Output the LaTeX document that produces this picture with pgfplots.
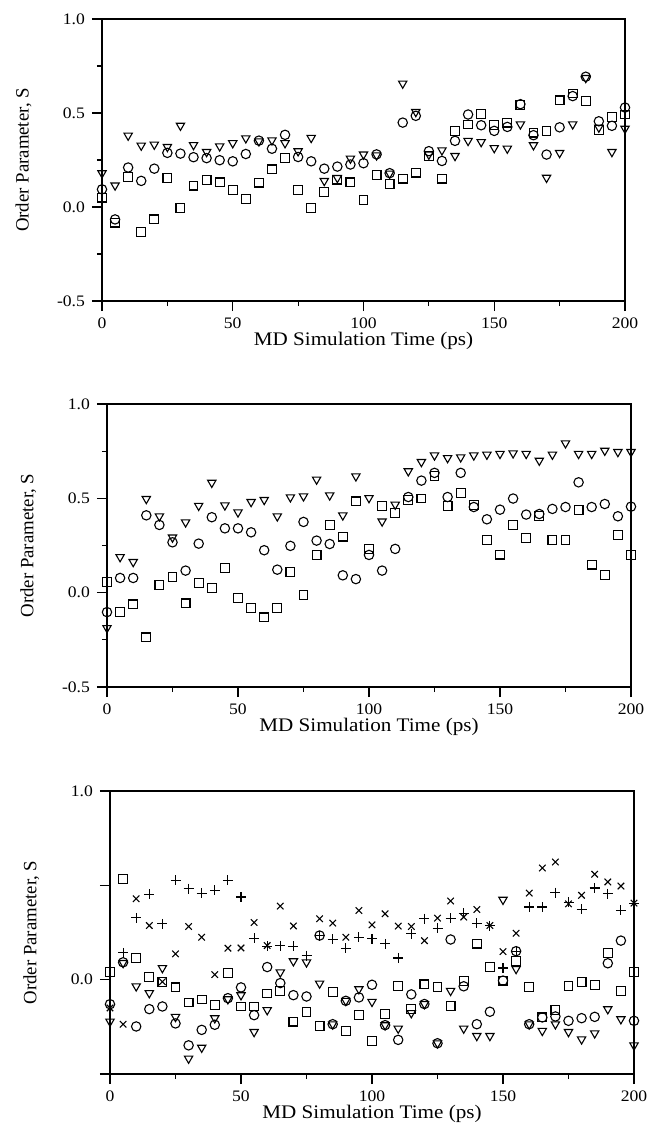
\documentclass[border=0pt]{standalone}
\usepackage{pgfplots}
\pgfplotsset{compat=1.18}
\usepackage{pgfplotstable}
\usepackage{fontspec}
\setmainfont{Liberation Serif}
\newfontfamily\hfont[FakeStretch=1.1]{Liberation Serif}

% t = time (ps); c = circles, s = squares, v = triangles, p = plus, x = crosses
\pgfplotstableread{
t c s v
0 0.094 0.05 0.18
5 -0.066 -0.083 0.115
10 0.21 0.16 0.38
15 0.139 -0.133 0.327
20 0.204 -0.066 0.332
25 0.288 0.156 0.32
30 0.284 -0.007 0.433
35 0.265 0.114 0.33
40 0.26 0.142 0.293
45 0.249 0.131 0.323
50 0.243 0.089 0.34
55 0.282 0.041 0.366
60 0.353 0.13 0.35
65 0.31 0.2 0.355
70 0.384 0.261 0.34
75 0.266 0.089 0.297
80 0.243 -0.007 0.368
85 0.204 0.078 0.139
90 0.215 0.146 0.155
95 0.226 0.131 0.258
100 0.233 0.037 0.28
105 0.28 0.17 0.275
110 0.18 0.124 0.178
115 0.449 0.151 0.657
120 0.485 0.183 0.506
125 0.297 0.272 0.279
130 0.245 0.151 0.302
135 0.352 0.403 0.272
140 0.492 0.439 0.352
145 0.435 0.496 0.346
150 0.405 0.435 0.314
155 0.426 0.449 0.311
160 0.547 0.543 0.44
165 0.382 0.396 0.329
170 0.279 0.405 0.156
175 0.424 0.567 0.288
180 0.59 0.604 0.44
185 0.693 0.563 0.687
190 0.456 0.408 0.423
195 0.432 0.48 0.293
200 0.529 0.492 0.417
}\first

\pgfplotstableread{
t c s v
0 -0.103 0.055 -0.187
5 0.078 -0.103 0.189
10 0.078 -0.062 0.163
15 0.41 -0.237 0.497
20 0.359 0.039 0.405
25 0.267 0.083 0.293
30 0.117 -0.057 0.373
35 0.26 0.053 0.461
40 0.4 0.025 0.583
45 0.341 0.129 0.463
50 0.341 -0.028 0.426
55 0.32 -0.083 0.481
60 0.225 -0.131 0.492
65 0.122 -0.083 0.405
70 0.248 0.11 0.506
75 0.375 -0.014 0.511
80 0.276 0.198 0.6
85 0.258 0.359 0.516
90 0.092 0.297 0.41
95 0.072 0.484 0.617
100 0.2 0.23 0.502
105 0.117 0.46 0.378
110 0.232 0.424 0.467
115 0.507 0.49 0.644
120 0.594 0.499 0.693
125 0.635 0.617 0.728
130 0.507 0.461 0.714
135 0.635 0.529 0.718
140 0.454 0.463 0.728
145 0.389 0.279 0.732
150 0.44 0.202 0.736
155 0.499 0.357 0.739
160 0.414 0.29 0.736
165 0.417 0.405 0.7
170 0.444 0.281 0.732
175 0.454 0.278 0.792
180 0.585 0.437 0.736
185 0.454 0.149 0.736
190 0.47 0.095 0.753
195 0.405 0.304 0.746
200 0.456 0.198 0.746
}\second

\pgfplotstableread{
t c s v p x
0 -0.13 0.039 -0.222 nan -0.15
5 0.092 0.535 0.089 0.142 -0.236
10 -0.248 0.115 -0.035 0.328 0.429
15 -0.156 0.016 -0.071 0.452 0.287
20 -0.142 -0.011 0.062 0.296 -0.011
25 -0.232 -0.041 -0.197 0.528 0.137
30 -0.348 -0.121 -0.418 0.482 0.282
35 -0.266 -0.105 -0.36 0.459 0.225
40 -0.239 -0.135 -0.204 0.475 0.027
45 -0.098 0.037 -0.103 0.528 0.167
50 -0.041 -0.142 -0.082 0.438 0.168
55 -0.188 -0.142 -0.277 0.22 0.303
60 0.067 -0.073 -0.161 0.177 0.181
65 -0.018 -0.06 0.039 0.181 0.39
70 -0.082 -0.222 0.098 0.176 0.285
75 -0.089 -0.17 0.092 0.128 nan
80 0.234 -0.245 -0.02 0.234 0.323
85 -0.236 -0.067 -0.236 0.213 0.3
90 -0.112 -0.271 -0.112 0.167 0.225
95 -0.094 -0.188 -0.05 0.225 0.367
100 -0.027 -0.324 -0.117 0.216 0.291
105 -0.241 -0.183 -0.241 0.19 0.349
110 -0.319 -0.035 -0.259 0.115 0.284
115 -0.078 -0.156 -0.177 0.243 0.282
120 -0.129 -0.025 -0.129 0.323 0.207
125 -0.337 -0.037 -0.337 0.273 0.326
130 0.213 -0.138 -0.059 0.326 0.417
135 -0.035 -0.007 -0.259 0.351 0.332
140 -0.236 0.191 -0.298 0.3 0.372
145 -0.17 0.066 -0.298 0.287 0.287
150 -0.005 -0.005 0.424 0.062 0.149
155 0.151 0.098 0.057 0.151 0.246
160 -0.236 -0.037 -0.236 0.385 0.459
165 -0.2 -0.2 -0.271 0.385 0.592
170 -0.195 -0.16 -0.236 0.461 0.624
175 -0.218 -0.032 -0.277 0.411 0.402
180 -0.204 -0.014 -0.316 0.372 0.447
185 -0.197 -0.027 -0.284 0.486 0.559
190 0.087 0.14 -0.156 0.456 0.518
195 0.207 -0.059 -0.209 0.367 0.496
200 -0.218 0.039 -0.348 0.406 0.406
}\third

\pgfplotsset{
  panel/.style={
    scale only axis,
    width=262pt, height=141.5pt,
    anchor=south west,
    xmin=0, xmax=200, ymin=-0.5, ymax=1,
    xtick={0,50,...,200},
    minor xtick={25,75,125,175},
    ytick={-0.5,0,0.5,1},
    xtick pos=left, ytick pos=left,
    tick align=outside,
    major tick length=5pt, minor tick length=2.5pt,
    axis line style={line width=0.6pt},
    every tick/.style={black, line width=0.6pt},
    tick label style={font=\hfont\fontsize{8}{9}\selectfont},
    /pgf/number format/assume math mode=true,
    xlabel={\hfont\fontsize{9.6}{11}\selectfont MD Simulation Time (ps)},
    ylabel={\fontsize{9.4}{11}\selectfont Order Parameter, S},
    xlabel style={at={(axis description cs:0.5,-0.14)}, anchor=center},
    ylabel style={at={(axis description cs:-0.15,0.5)}, anchor=center},
    every axis plot/.append style={only marks, black, mark options={line width=0.55pt}},
  },
  mc/.style={mark=o, mark size=2.35pt},
  ms/.style={mark=square, mark size=2.2pt},
  mv/.style={mark=triangle, mark size=2.4pt, mark options={rotate=180, line width=0.55pt}},
  mp/.style={mark=+, mark size=2.5pt},
  mx/.style={mark=x, mark size=2.3pt},
}

\begin{document}
\begin{tikzpicture}
\useasboundingbox (0,0) rectangle (324.5pt,-566pt);

\begin{axis}[panel, at={(51pt,-150.5pt)}, width=261.5pt, height=141pt,
  minor ytick={-0.25,0.25,0.75}, yticklabels={-0.5,0.0,0.5,1.0}]
\addplot[mc] table[x=t, y=c] {\first};
\addplot[ms] table[x=t, y=s] {\first};
\addplot[mv] table[x=t, y=v] {\first};
\end{axis}

\begin{axis}[panel, at={(53.5pt,-343.5pt)},
  minor ytick={-0.25,0.25,0.75}, yticklabels={-0.5,0.0,0.5,1.0}]
\addplot[mc] table[x=t, y=c] {\second};
\addplot[ms] table[x=t, y=s] {\second};
\addplot[mv] table[x=t, y=v] {\second};
\end{axis}

\begin{axis}[panel, at={(55pt,-537pt)}, yticklabels={,0.0,,1.0}]
\addplot[mc] table[x=t, y=c] {\third};
\addplot[ms] table[x=t, y=s] {\third};
\addplot[mv] table[x=t, y=v] {\third};
\addplot[mp] table[x=t, y=p] {\third};
\addplot[mx] table[x=t, y=x] {\third};
\end{axis}
\end{tikzpicture}
\end{document}
